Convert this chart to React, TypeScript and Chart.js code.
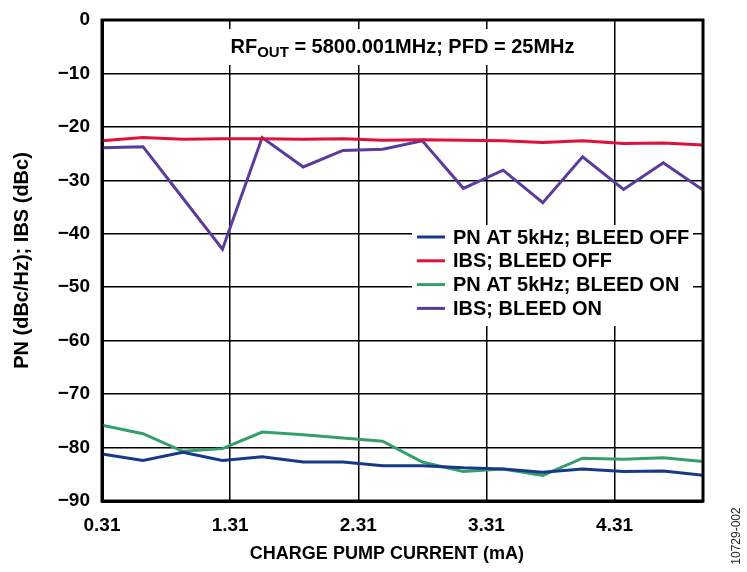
import { useEffect, useRef } from "react"
import { Chart, registerables } from "chart.js"

Chart.register(...registerables)

// charge pump current settings (mA)
const currents = [0.31, 0.63, 0.94, 1.25, 1.56, 1.88, 2.19, 2.5, 2.81, 3.13, 3.44, 3.75, 4.06, 4.38, 4.69, 5.0]
const xTicks = [0.31, 1.31, 2.31, 3.31, 4.31]

const pnBleedOff = [-81.2, -82.4, -80.9, -82.4, -81.7, -82.7, -82.7, -83.4, -83.4, -83.8, -84.0, -84.6, -84.0, -84.5, -84.4, -85.2]
const ibsBleedOff = [-22.6, -22.0, -22.3, -22.2, -22.2, -22.3, -22.2, -22.5, -22.4, -22.5, -22.6, -22.9, -22.6, -23.1, -23.0, -23.4]
const pnBleedOn = [-75.8, -77.4, -80.7, -80.2, -77.1, -77.6, -78.2, -78.8, -82.7, -84.5, -84.0, -85.2, -82.0, -82.2, -81.9, -82.6]
const ibsBleedOn = [-23.9, -23.7, -33.3, -42.9, -22.0, -27.5, -24.4, -24.2, -22.6, -31.5, -28.1, -34.2, -25.6, -31.7, -26.7, -31.8]

const FONT = "'Liberation Sans', Arial, sans-serif"

const toPoints = (vals: number[]) => vals.map((y, i) => ({ x: currents[i], y }))

// frame, title box, legend box, x axis title and figure number
const decorations = {
  id: "decorations",
  afterDraw(chart: Chart) {
    const { ctx, chartArea } = chart
    const { left, right, top, bottom } = chartArea
    ctx.save()

    ctx.strokeStyle = "#000"
    ctx.lineWidth = 3
    ctx.strokeRect(left, top, right - left, bottom - top)

    // title
    const cx = (left + right) / 2
    ctx.fillStyle = "#fff"
    ctx.fillRect(cx - 180, top + 9, 360, 36)
    ctx.fillStyle = "#000"
    ctx.textBaseline = "alphabetic"
    ctx.textAlign = "left"
    const big = `bold 20px ${FONT}`
    const small = `bold 15px ${FONT}`
    const p1 = "RF"
    const p2 = "OUT"
    const p3 = " = 5800.001MHz; PFD = 25MHz"
    ctx.font = big
    const w1 = ctx.measureText(p1).width
    const w3 = ctx.measureText(p3).width
    ctx.font = small
    const w2 = ctx.measureText(p2).width
    let x = cx - (w1 + w2 + w3) / 2
    const base = top + 33
    ctx.font = big
    ctx.fillText(p1, x, base)
    x += w1
    ctx.font = small
    ctx.fillText(p2, x, base + 4)
    x += w2
    ctx.font = big
    ctx.fillText(p3, x, base)

    // legend
    const lx = left + 310
    const ly = top + 205
    ctx.fillStyle = "#fff"
    ctx.fillRect(lx, ly, right - 10 - lx, 101)
    ctx.font = `bold 20px ${FONT}`
    ctx.textBaseline = "middle"
    chart.data.datasets.forEach((ds, i) => {
      const y = ly + 12 + i * 23.8
      ctx.strokeStyle = ds.borderColor as string
      ctx.lineWidth = 3
      ctx.beginPath()
      ctx.moveTo(lx + 5, y)
      ctx.lineTo(lx + 33, y)
      ctx.stroke()
      ctx.fillStyle = "#000"
      ctx.fillText(ds.label as string, lx + 41, y + 1)
    })

    // x axis title
    ctx.font = `bold 18px ${FONT}`
    ctx.textAlign = "center"
    ctx.fillText("CHARGE PUMP CURRENT (mA)", left + (right - left) * 0.474, bottom + 53)

    // figure number
    ctx.translate(737, 536)
    ctx.rotate(-Math.PI / 2)
    ctx.font = `12px ${FONT}`
    ctx.fillStyle = "#222"
    ctx.textAlign = "center"
    ctx.fillText("10729-002", 0, 0)
    ctx.restore()
  },
}

export default function App() {
  const chartRef = useRef<HTMLCanvasElement>(null)
  const chartInstance = useRef<Chart | null>(null)

  useEffect(() => {
    if (!chartRef.current) return
    const ctx = chartRef.current.getContext("2d")
    if (!ctx) return

    chartInstance.current = new Chart(ctx, {
      type: "line",
      data: {
        datasets: [
          { label: "PN AT 5kHz; BLEED OFF", data: toPoints(pnBleedOff), borderColor: "#17398a" },
          { label: "IBS; BLEED OFF", data: toPoints(ibsBleedOff), borderColor: "#e0103c" },
          { label: "PN AT 5kHz; BLEED ON", data: toPoints(pnBleedOn), borderColor: "#349f6a" },
          { label: "IBS; BLEED ON", data: toPoints(ibsBleedOn), borderColor: "#5c3a9c" },
        ].map((d) => ({ ...d, borderWidth: 3, pointRadius: 0, tension: 0, fill: false })),
      },
      options: {
        responsive: true,
        maintainAspectRatio: false,
        animation: false,
        layout: { padding: { left: 0, top: 20, right: 44, bottom: 0 } },
        plugins: {
          legend: { display: false },
          tooltip: { enabled: false },
        },
        scales: {
          x: {
            type: "linear",
            min: 0.31,
            max: 5.0,
            afterBuildTicks: (axis) => {
              axis.ticks = xTicks.map((v) => ({ value: v }))
            },
            afterFit: (scale) => {
              scale.height = 71
              scale.paddingLeft = 0
              scale.paddingRight = 0
            },
            grid: { color: "#000", lineWidth: 1.5, drawTicks: false },
            border: { display: true, color: "#000", width: 3 },
            ticks: {
              color: "#000",
              padding: 13,
              maxRotation: 0,
              font: { family: FONT, size: 19, weight: "bold" },
              callback: (v) => Number(v).toFixed(2),
            },
          },
          y: {
            min: -90,
            max: 0,
            afterFit: (scale) => {
              scale.width = 102
              scale.paddingTop = 0
              scale.paddingBottom = 0
            },
            grid: { color: "#000", lineWidth: 1.5, drawTicks: false },
            border: { display: true, color: "#000", width: 3 },
            ticks: {
              stepSize: 10,
              color: "#000",
              padding: 12,
              font: { family: FONT, size: 19, weight: "bold" },
              callback: (v) => (Number(v) === 0 ? "0" : "\u2212" + Math.abs(Number(v))),
            },
            title: {
              display: true,
              text: "PN (dBc/Hz); IBS (dBc)",
              color: "#000",
              padding: { top: 10, bottom: 0 },
              font: { family: FONT, size: 20, weight: "bold" },
            },
          },
        },
      },
      plugins: [decorations],
    })

    return () => {
      if (chartInstance.current) {
        chartInstance.current.destroy()
      }
    }
  }, [])

  return (
    <div style={{ position: "absolute", left: 0, top: 0, width: 747, height: 572, background: "#fff" }}>
      <canvas ref={chartRef} />
    </div>
  )
}
